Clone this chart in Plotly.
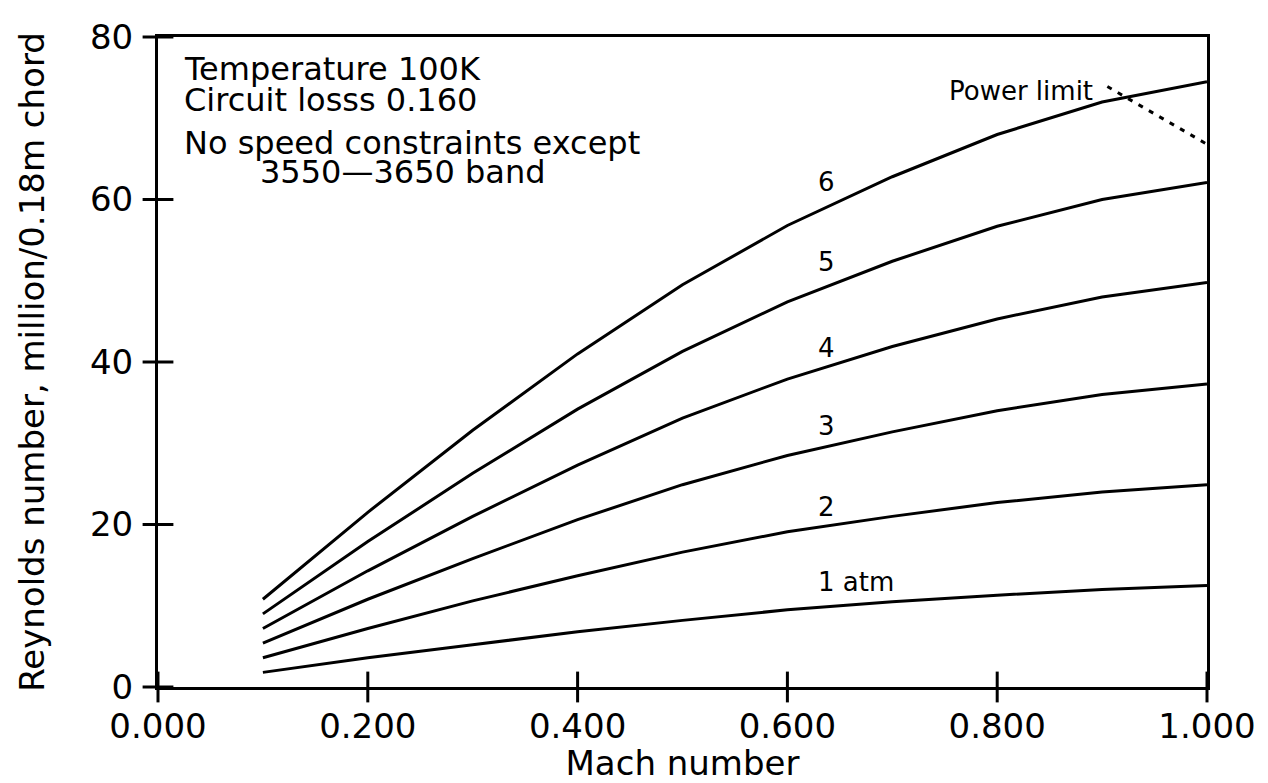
import plotly.graph_objects as go

# Data
mach = [0.1, 0.2, 0.3, 0.4, 0.5, 0.6, 0.7, 0.8, 0.9, 1.0]
re_1atm = [1.8, 3.6, 5.2, 6.8, 8.2, 9.5, 10.5, 11.3, 12.0, 12.5]
re_2atm = [3.6, 7.2, 10.6, 13.7, 16.6, 19.1, 21.0, 22.7, 24.0, 24.9]
re_3atm = [5.4, 10.8, 15.8, 20.6, 24.9, 28.5, 31.4, 34.0, 36.0, 37.3]
re_4atm = [7.2, 14.3, 21.0, 27.3, 33.1, 37.9, 41.9, 45.3, 48.0, 49.8]
re_5atm = [9.0, 17.9, 26.3, 34.2, 41.3, 47.4, 52.4, 56.7, 60.0, 62.1]
re_6atm = [10.8, 21.5, 31.6, 41.0, 49.5, 56.8, 62.8, 68.0, 72.0, 74.5]

series = [re_1atm, re_2atm, re_3atm, re_4atm, re_5atm, re_6atm]
curve_labels = ["1 atm", "2", "3", "4", "5", "6"]
label_mach = [0.627, 0.627, 0.627, 0.627, 0.627, 0.627]
label_re = [12.9, 22.2, 32.1, 41.7, 52.3, 62.1]

power_limit_mach = [0.905, 1.0]
power_limit_re = [73.9, 66.8]

x_ticks = [0.0, 0.2, 0.4, 0.6, 0.8, 1.0]
y_ticks = [0, 20, 40, 60, 80]

notes = ["Temperature 100K", "Circuit losss 0.160", "No speed constraints except", "3550\u20143650 band"]
notes_mach = [0.023, 0.023, 0.023, 0.095]
notes_re = [76.1, 72.3, 67.0, 63.4]

FONT = "DejaVu Sans"
fig = go.Figure()

for s in series:
    fig.add_trace(go.Scatter(x=mach, y=s, mode="lines",
                             line=dict(color="black", width=3), showlegend=False,
                             hoverinfo="skip"))

fig.add_trace(go.Scatter(x=power_limit_mach, y=power_limit_re, mode="lines",
                         line=dict(color="black", width=3, dash="5px,7px"),
                         showlegend=False, hoverinfo="skip"))

# crossing tick marks drawn as line markers at the axis positions
fig.add_trace(go.Scatter(x=x_ticks, y=[0] * len(x_ticks), mode="markers", cliponaxis=False,
                         marker=dict(symbol="line-ns", size=22, color="black",
                                     line=dict(color="black", width=3)),
                         showlegend=False, hoverinfo="skip"))
fig.add_trace(go.Scatter(x=[0] * len(y_ticks), y=y_ticks, mode="markers", cliponaxis=False,
                         marker=dict(symbol="line-ew", size=22, color="black",
                                     line=dict(color="black", width=3)),
                         showlegend=False, hoverinfo="skip"))

for t, xm, yr in zip(curve_labels, label_mach, label_re):
    fig.add_annotation(x=xm, y=yr, text=t, showarrow=False, xanchor="left",
                       yanchor="middle", font=dict(family=FONT, size=26, color="black"))

for t, xm, yr in zip(notes, notes_mach, notes_re):
    fig.add_annotation(x=xm, y=yr, text=t, showarrow=False, xanchor="left",
                       yanchor="middle", font=dict(family=FONT, size=32, color="black"))

fig.add_annotation(x=0.893, y=73.3, text="Power limit", showarrow=False, xanchor="right",
                   yanchor="middle", font=dict(family=FONT, size=26, color="black"))

fig.update_layout(
    width=1268, height=783,
    margin=dict(l=158, r=61, t=37, b=96),
    paper_bgcolor="white", plot_bgcolor="white",
    font=dict(family=FONT, color="black"),
    xaxis=dict(range=[0, 1], tickvals=x_ticks, tickformat=".3f", automargin=False,
               ticks="",
               showline=True, linewidth=3, linecolor="black", mirror=True,
               showgrid=False, zeroline=False,
               tickfont=dict(family=FONT, size=34), ticklabelstandoff=7,
               title=dict(text="Mach number", font=dict(family=FONT, size=34), standoff=9)),
    yaxis=dict(range=[0, 80], tickvals=y_ticks, automargin=False,
               ticks="",
               showline=True, linewidth=3, linecolor="black", mirror=True,
               showgrid=False, zeroline=False,
               tickfont=dict(family=FONT, size=34), ticklabelstandoff=15,
               title=dict(text="Reynolds number, million/0.18m chord",
                          font=dict(family=FONT, size=34), standoff=36)),
)

fig.write_html("out.html")
